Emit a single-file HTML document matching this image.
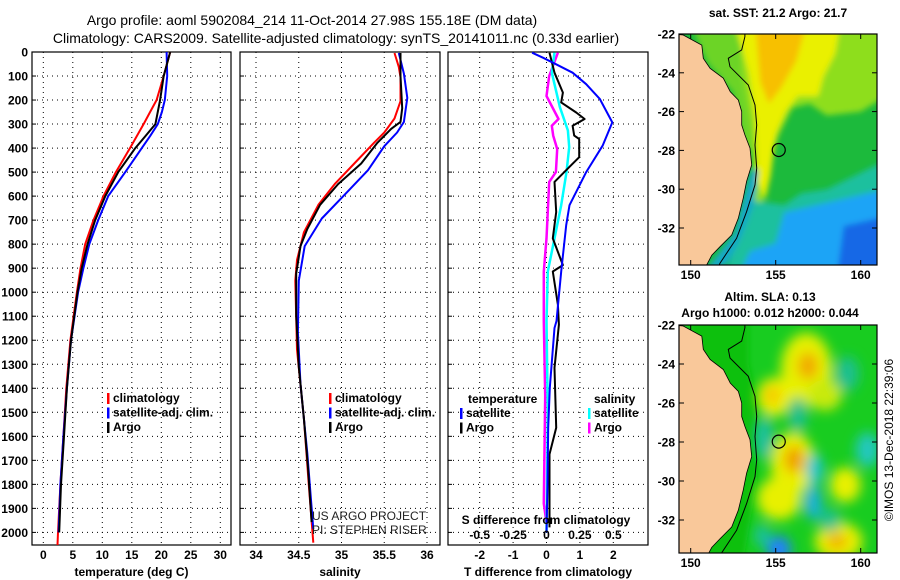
<!DOCTYPE html>
<html><head><meta charset="utf-8"><style>
html,body{margin:0;padding:0;background:#fff;width:900px;height:580px;overflow:hidden}
svg{display:block;font-family:"Liberation Sans",sans-serif}
.tk{font-size:12px;font-weight:bold;fill:#000}
.ttl{font-size:14px;fill:#000}
.lg{font-size:12px;font-weight:bold;fill:#000}
</style></head><body>
<svg id="fig" width="900" height="580" viewBox="0 0 900 580">
<defs>
<filter id="blur" x="-20%" y="-20%" width="140%" height="140%"><feGaussianBlur stdDeviation="3"/></filter>
<filter id="blur2" x="-20%" y="-20%" width="140%" height="140%"><feGaussianBlur stdDeviation="6"/></filter>
<clipPath id="clipTop"><rect x="679" y="34" width="198" height="231"/></clipPath>
<clipPath id="clipBot"><rect x="679" y="325" width="198" height="228"/></clipPath>
</defs>
<text class="ttl" x="312" y="25" text-anchor="middle">Argo profile: aoml 5902084_214 11-Oct-2014 27.98S 155.18E (DM data)</text>
<text class="ttl" x="336" y="43" text-anchor="middle">Climatology: CARS2009. Satellite-adjusted climatology: synTS_20141011.nc (0.33d earlier)</text>
<g id="panels"></g>
<g id="maps"></g>
<text x="312" y="520" style="font-size:12px;fill:#222">US ARGO PROJECT</text>
<text x="312" y="534" style="font-size:12px;fill:#222">PI: STEPHEN RISER</text>
<text transform="translate(893,440) rotate(-90)" text-anchor="middle" style="font-size:12px;fill:#000">©IMOS 13-Dec-2018 22:39:06</text>
</svg>
<script>
// ---- data (depth m, value) ----
const tClimDepth=[0,100,200,250,300,400,500,600,700,800,900,1000,1200,1400,1600,1800,2000,2056];
const tClimVal=[21.5,20.4,19.2,18.1,17.0,14.7,12.3,10.2,8.5,7.1,6.3,5.7,4.6,3.9,3.4,2.9,2.5,2.4];
const tSatDepth=[0,100,200,250,300,350,400,500,600,700,800,900,1000,1200,1400,1600,1800,2000];
const tSatVal=[20.9,21.0,20.6,20.1,19.4,18.1,16.7,13.9,11.0,9.3,7.8,6.8,5.9,4.7,4.0,3.4,2.9,2.6];
const tArgoDepth=[0,100,200,300,350,400,500,600,700,800,900,1000,1200,1400,1600,1800,2000];
const tArgoVal=[21.5,20.4,19.8,19.0,17.3,15.6,12.7,10.5,8.8,7.5,6.5,5.8,4.7,4.0,3.5,3.0,2.7];

const sDepth=[4,62,105,205,277,335,378,464,550,636,751,866,952,1239,1526,1813,2043];
const sClimVal=[35.62,35.67,35.69,35.69,35.62,35.5,35.38,35.15,34.92,34.73,34.56,34.48,34.46,34.48,34.56,34.62,34.67];
const sSatDepth=[4,90,191,291,335,392,492,593,693,808,952,1167,1383,1670,1986];
const sSatVal=[35.67,35.73,35.77,35.73,35.65,35.5,35.31,35.04,34.77,34.57,34.5,34.49,34.52,34.6,34.67];
const sArgoDepth=[4,100,234,291,320,378,464,550,636,737,808,923,1096,1311,1526,1742,1957];
const sArgoVal=[35.69,35.69,35.71,35.69,35.58,35.42,35.23,34.96,34.75,34.6,34.52,34.47,34.47,34.5,34.56,34.61,34.65];

const dtSatDepth=[3,24,45,86,134,196,293,390,500,638,721,914,1120,1149,1398,1564,1800,2000];
const dtSatVal=[-0.43,-0.1,0.2,0.78,1.19,1.6,1.97,1.68,1.19,0.69,0.59,0.44,0.3,0.24,0.1,0.05,0.03,0.0];
const dtArgoDepth=[3,86,169,210,252,279,307,348,362,438,472,541,666,776,887,914,1052,1135,1315,1564,1675,1979];
const dtArgoVal=[0.09,0.24,0.49,0.44,0.89,1.14,0.78,0.83,0.98,0.98,0.73,0.24,0.29,0.19,0.49,0.19,0.34,0.37,0.24,0.29,0.09,0.09];
const dsSatDepth=[3,86,230,327,396,500,638,776,914,1120,1500,2000];
const dsSatVal=[0.06,0.04,0.1,0.16,0.17,0.15,0.11,0.06,0.01,0.0,0.01,0.0];
const dsArgoDepth=[3,100,183,279,307,348,404,500,541,776,914,1120,1432,1880,1960];
const dsArgoVal=[0.085,0.02,0.0,0.09,0.04,0.05,0.08,0.07,0.02,0.0,-0.02,-0.02,-0.01,-0.02,0.0];

const depthTicks=[0,100,200,300,400,500,600,700,800,900,1000,1100,1200,1300,1400,1500,1600,1700,1800,1900,2000];
const tTicks=[0,5,10,15,20,25,30];
const sTicks=[34,34.5,35,35.5,36];
const sTickLabels=["34","34.5","35","35.5","36"];
const dTTicks=[-2,-1,0,1,2];
const dSTicks=[-0.5,-0.25,0,0.25,0.5];
const dSTickLabels=["-0.5","-0.25","0","0.25","0.5"];
const latTicks=[-22,-24,-26,-28,-30,-32];
const lonTicks=[150,155,160];

const NS="http://www.w3.org/2000/svg";
function mk(tag,attrs,parent){const e=document.createElementNS(NS,tag);for(const k in attrs)e.setAttribute(k,attrs[k]);parent.appendChild(e);return e;}
const panelsG=document.getElementById('panels');
const TOP=52,BOT=545;
const yD=d=>52+d*0.2402;

function panel(name,x0,x1,xf,ticks,labels,xlabel){
  const g=mk('g',{},panelsG);
  
  
  depthTicks.forEach(d=>{const l=mk('line',{x1:x0,x2:x1,y1:yD(d),y2:yD(d),stroke:'#000','stroke-width':1,'stroke-dasharray':'1,4'},g);
    });
  ticks.forEach((t,i)=>{const x=xf(t);
    const l=mk('line',{x1:x,x2:x,y1:TOP,y2:BOT,stroke:'#000','stroke-width':1,'stroke-dasharray':'1,4'},g);
    
    if(labels){const tx=mk('text',{x:x,y:559,'text-anchor':'middle',class:'tk'},g);tx.textContent=labels[i];
      }
  });
  const r=mk('rect',{x:x0,y:TOP,width:x1-x0,height:BOT-TOP,fill:'none',stroke:'#000','stroke-width':1.2},g);
  
  depthTicks.forEach(d=>{mk('line',{x1:x0,x2:x0+4,y1:yD(d),y2:yD(d),stroke:'#000'},g);});
  if(xlabel){const t=mk('text',{x:(x0+x1)/2,y:576,'text-anchor':'middle',class:'tk'},g);t.textContent=xlabel;
    }
  return g;
}
function series(g,name,depths,vals,xf,color,w){
  const pts=depths.map((d,i)=>xf(vals[i]).toFixed(1)+','+Math.min(yD(d),BOT).toFixed(1)).join(' ');
  const p=mk('polyline',{points:pts,fill:'none',stroke:color,'stroke-width':w,'stroke-linejoin':'round'},g);
  
  
}
function legend(g,x,y,items){
  items.forEach((it,i)=>{
    const r=mk('rect',{x:x,y:y+i*14.5-9,width:2.5,height:11,fill:it[1]},g);
    
    const t=mk('text',{x:x+6,y:y+i*14.5,class:'lg'},g);t.textContent=it[0];
    
  });
}
// panel 1 temperature
const xT=v=>43.3+v*5.9;
const g1=panel('temperature-panel',32,231,xT,tTicks,tTicks.map(String),'temperature (deg C)');
depthTicks.forEach(d=>{const t=mk('text',{x:28,y:yD(d)+4.5,'text-anchor':'end',class:'tk'},g1);t.textContent=String(d);
  });
series(g1,'temperature-climatology-line',tClimDepth,tClimVal,xT,'#ff0000',2);
series(g1,'temperature-satellite-line',tSatDepth,tSatVal,xT,'#0000ff',2);
series(g1,'temperature-argo-line',tArgoDepth,tArgoVal,xT,'#000000',2);
legend(g1,107,402,[['climatology','#ff0000'],['satellite-adj. clim.','#0000ff'],['Argo','#000']]);
// panel 2 salinity
const xS=v=>256+(v-34)*85.5;
const g2=panel('salinity-panel',240,440,xS,sTicks,sTickLabels,'salinity');
series(g2,'salinity-climatology-line',sDepth,sClimVal,xS,'#ff0000',2);
series(g2,'salinity-satellite-line',sSatDepth,sSatVal,xS,'#0000ff',2);
series(g2,'salinity-argo-line',sArgoDepth,sArgoVal,xS,'#000000',2);
legend(g2,329,402,[['climatology','#ff0000'],['satellite-adj. clim.','#0000ff'],['Argo','#000']]);
// panel 3 differences
const xDT=v=>546.5+v*33.4;
const xDS=v=>546.5+v*133.6;
const g3=panel('difference-panel',448,648,xDT,dTTicks,dTTicks.map(String),'T difference from climatology');
series(g3,'salinity-diff-argo-line',dsArgoDepth,dsArgoVal,xDS,'#ff00ff',2.5);
series(g3,'salinity-diff-satellite-line',dsSatDepth,dsSatVal,xDS,'#00ffff',2.5);
series(g3,'temperature-diff-argo-line',dtArgoDepth,dtArgoVal,xDT,'#000000',2);
series(g3,'temperature-diff-satellite-line',dtSatDepth,dtSatVal,xDT,'#0000ff',2);
{const t=mk('text',{x:468,y:403,class:'lg'},g3);t.textContent='temperature';
 const s=mk('text',{x:594,y:403,class:'lg'},g3);s.textContent='salinity';}
legend(g3,460,417,[['satellite','#0000ff'],['Argo','#000']]);
legend(g3,588,417,[['satellite','#00ffff'],['Argo','#ff00ff']]);
{const t=mk('text',{x:546,y:524,'text-anchor':'middle',class:'tk'},g3);t.textContent='S difference from climatology';
 }
dSTicks.forEach((v,i)=>{const t=mk('text',{x:xDS(v),y:539,'text-anchor':'middle',class:'tk'},g3);t.textContent=dSTickLabels[i];
  });

// ---- maps ----
const mapsG=document.getElementById('maps');
const lonX=l=>690.7+(l-150)*17;
const coast=[[149.0,-22.0],[149.56,-22.05],[150.65,-22.57],[150.74,-23.25],[151.14,-23.77],[151.92,-24.28],[152.33,-24.98],[152.8,-25.4],[153.0,-26.0],[153.0,-26.69],[153.19,-27.2],[153.49,-27.88],[153.59,-28.75],[153.29,-29.6],[153.09,-30.47],[152.8,-31.5],[152.41,-32.36],[151.72,-32.97],[151.24,-33.4],[150.94,-33.9],[150.8,-34.3],[149.0,-34.3]];
const contour=[[153.19,-21.8],[153.19,-22.14],[153.0,-22.82],[152.21,-23.25],[152.31,-23.69],[153.39,-24.63],[153.78,-25.66],[153.88,-26.69],[153.78,-27.72],[153.88,-28.92],[153.78,-29.78],[153.29,-31.16],[152.7,-32.53],[151.72,-33.82],[151.5,-34.3]];
function drawMap(name,top,bottom,clip,latY,fills,blobs,title){
  const g=mk('g',{},mapsG);
  
  
  const P=a=>a.map(p=>lonX(p[0]).toFixed(1)+','+latY(p[1]).toFixed(1)).join(' ');
  const c=mk('g',{'clip-path':'url(#'+clip+')'},g);
  mk('rect',{x:670,y:top-10,width:220,height:bottom-top+20,fill:fills.base},c);
  const b=mk('g',{filter:'url(#blur)'},c);
  fills.polys.forEach(p=>{mk('polygon',{points:P(p[0]),fill:p[1]},b);});
  const b2=mk('g',{filter:'url(#blur2)'},c);
  blobs.forEach(e=>{mk('ellipse',{cx:lonX(e[0]),cy:latY(e[1]),rx:e[2]*17,ry:e[3]*19.4,fill:e[4]},b2);});
  mk('polygon',{points:P(coast),fill:'#f9c89a',stroke:'#000','stroke-width':0.8},c);
  mk('polyline',{points:P(contour),fill:'none',stroke:'#000','stroke-width':1},c);
  const circ=mk('circle',{cx:lonX(155.18),cy:latY(-27.98),r:6.5,fill:'none',stroke:'#000','stroke-width':1.2},g);
  
  mk('rect',{x:679,y:top,width:198,height:bottom-top,fill:'none',stroke:'#000','stroke-width':1.2},g);
  latTicks.forEach(la=>{const y=latY(la);mk('line',{x1:679,x2:684,y1:y,y2:y,stroke:'#000'},g);mk('line',{x1:872,x2:877,y1:y,y2:y,stroke:'#000'},g);
    const t=mk('text',{x:675,y:y+4.5,'text-anchor':'end',class:'tk'},g);t.textContent=String(la);
    });
  lonTicks.forEach(lo=>{const x=lonX(lo);mk('line',{x1:x,x2:x,y1:bottom-5,y2:bottom,stroke:'#000'},g);mk('line',{x1:x,x2:x,y1:top,y2:top+5,stroke:'#000'},g);
    const t=mk('text',{x:x,y:bottom+14,'text-anchor':'middle',class:'tk'},g);t.textContent=String(lo);
    });
  title.forEach((s,i)=>{const t=mk('text',{x:s[1],y:s[2],'text-anchor':'middle',class:'tk'},g);t.textContent=s[0];
    });
}
const yTop=la=>34+(-22-la)*19.4;
const yBot=la=>325+(-22-la)*19.5;
drawMap('sst-map',34,265,'clipTop',yTop,{base:'#1cba3c',polys:[
 [[[150,-21.5],[154,-21.5],[153.6,-24],[153.6,-26],[153.6,-28],[153.2,-28],[152.5,-25],[151,-23.5]],'#6cd428'],
 [[[153,-21.5],[161.5,-21.5],[161.5,-25.2],[160,-26.0],[158,-26.2],[157,-25.6],[156,-25.8],[155.3,-27],[154.6,-28.5],[154.3,-30.5],[153.8,-31.5],[153.6,-27],[153,-24]],'#8ede1e'],
 [[[152.6,-21.5],[158.8,-21.5],[158.5,-23],[157.8,-24.2],[157.5,-25.2],[156.3,-25.2],[155.6,-26],[155,-27.2],[154.7,-29.3],[154.4,-30.5],[153.9,-29.5],[153.8,-26.5],[153.4,-24]],'#eaf000'],
 [[[153.8,-21.5],[156.8,-21.5],[156.2,-23.4],[155.3,-24.8],[154.6,-25.6],[154.1,-24.5]],'#f7c000'],
 [[[153.6,-30.6],[155.5,-30.8],[156.5,-30.2],[158,-30],[161.5,-28.5],[161.5,-34.5],[152,-34.5],[153,-32]],'#1ac09e'],
 [[[155.5,-31.2],[157.5,-30.8],[161.5,-30.0],[161.5,-34.5],[152.8,-34.5],[153.5,-33.2],[155,-32.8]],'#1ca4f6'],
 [[[159,-31.9],[161.5,-31.4],[161.5,-34.5],[158.6,-34.5],[158.8,-33.2]],'#1468e6'],
 [[[153.6,-29],[154,-29],[153.7,-30.8],[153.0,-32.4],[152.2,-33.8],[151,-34.5],[150.6,-34.5],[152.6,-32.2],[153.3,-29.8]],'#14a8c8']
]},[],[['sat. SST: 21.2 Argo: 21.7',778,17]]);
drawMap('sla-map',325,553,'clipBot',yBot,{base:'#18cc20',polys:[
 [[[150,-21.5],[153.4,-21.5],[153.4,-24],[153.9,-26],[153.9,-30],[153,-34.5],[150,-34.5]],'#10c010']
]},[
 [156.8,-24.3,1.5,1.9,'#e6f000'],[156.9,-24.1,0.6,0.7,'#f2a800'],
 [154.9,-25.7,1.0,1.0,'#eef000'],[154.8,-25.6,0.4,0.45,'#f5c000'],
 [157.9,-25.6,1.0,0.8,'#c8ea10'],
 [156.0,-29.1,1.3,1.6,'#eaf000'],[156.1,-28.9,0.6,0.7,'#f0a000'],
 [155.2,-30.9,1.3,1.1,'#e8f000'],
 [159.1,-30.2,0.9,0.9,'#e8f000'],
 [158.7,-33.1,1.4,1.0,'#e8f000'],[158.6,-33.1,0.6,0.45,'#f2b400'],
 [157.3,-29.4,0.5,0.8,'#1ec4d0'],[157.2,-31.1,0.5,0.9,'#1cb0e0'],
 [160.4,-28.4,0.7,0.9,'#20c8c0'],[154.3,-27.8,0.55,1.1,'#1fc0a0'],
 [155.2,-33.5,0.7,0.7,'#2080ff'],[156.3,-26.6,0.55,0.9,'#1fc090'],
 [158.2,-32.0,0.6,0.6,'#1fc090'],[154.2,-32.8,0.45,0.6,'#1fc0a0'],[159.2,-24.5,0.7,0.9,'#1fc090']
],[['Altim. SLA: 0.13',770,301],['Argo h1000: 0.012 h2000: 0.044',770,317]]);
</script>
</body></html>
